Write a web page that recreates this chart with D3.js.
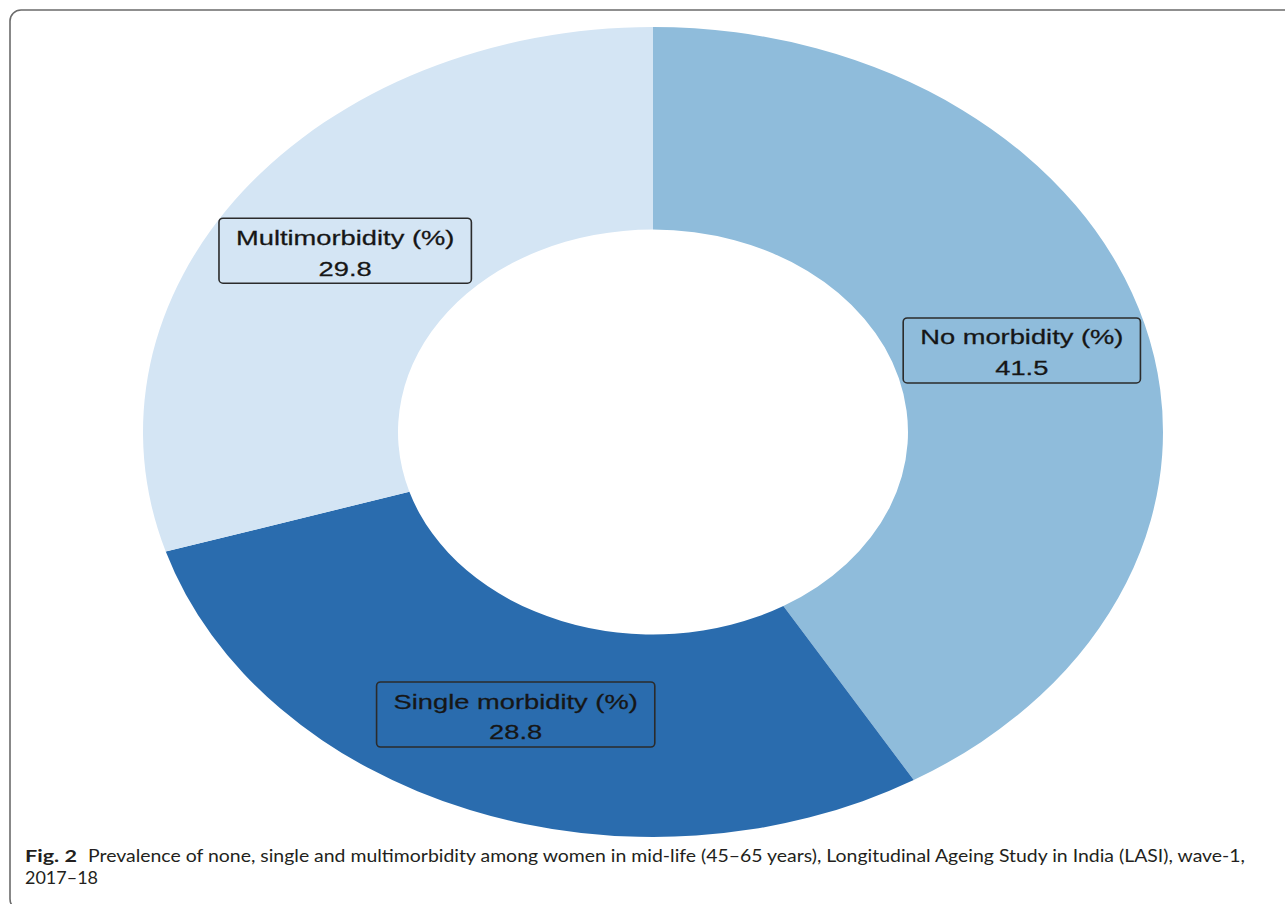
<!DOCTYPE html>
<html>
<head>
<meta charset="utf-8">
<script src="https://cdn.jsdelivr.net/npm/d3@7"></script>
<style>
  html, body { margin: 0; padding: 0; background: #fff; }
  svg { display: block; }
</style>
</head>
<body>
<svg id="chart" width="1285" height="904"></svg>
<script>
// Morbidity categories and their prevalence (%)
const categories = ["No morbidity (%)", "Single morbidity (%)", "Multimorbidity (%)"];
const values = [41.5, 28.8, 29.8];
const valueLabels = ["41.5", "28.8", "29.8"];
const colors = ["#8fbcdb", "#2a6cae", "#d4e5f4"];

const captionBold = "Fig. 2";
const captionLine1 = "Prevalence of none, single and multimorbidity among women in mid-life (45\u201365 years), Longitudinal Ageing Study in India (LASI), wave-1,";
const captionLine2 = "2017\u201318";

const svg = d3.select("#chart");

// Panel frame (open at right and bottom)
svg.append("rect")
  .attr("x", 10).attr("y", 10)
  .attr("width", 1320).attr("height", 900)
  .attr("rx", 11).attr("ry", 11)
  .attr("fill", "none")
  .attr("stroke", "#6b6b6b")
  .attr("stroke-width", 1.6);

// Donut geometry: drawn as a circle, then stretched horizontally
const cx = 653, cy = 432;
const rOuter = 405, rInner = 202.5;
const sx = 510 / 405;

const color = d3.scaleOrdinal().domain(categories).range(colors);

const pie = d3.pie().sort(null).value(d => d.value).startAngle(0).endAngle(2 * Math.PI);
const data = categories.map((c, i) => ({ name: c, value: values[i], label: valueLabels[i] }));
const arcs = pie(data);

const arc = d3.arc().innerRadius(rInner).outerRadius(rOuter);

const ring = svg.append("g")
  .attr("transform", `translate(${cx},${cy}) scale(${sx},1)`);

ring.selectAll("path")
  .data(arcs)
  .join("path")
  .attr("d", arc)
  .attr("fill", d => color(d.data.name));

// Boxed labels at each slice centroid
const textScale = 1.4;
const labels = svg.append("g");

arcs.forEach(d => {
  const c = arc.centroid(d);
  const x = cx + c[0] * sx;
  const y = cy + c[1];
  const g = labels.append("g").attr("transform", `translate(${x},${y})`);

  const box = g.append("rect");
  const tg = g.append("g").attr("transform", `scale(${textScale},1)`);
  const t1 = tg.append("text")
    .attr("x", 0).attr("y", -7)
    .attr("text-anchor", "middle")
    .attr("font-family", "'Liberation Sans', Arial, sans-serif")
    .attr("font-size", 19.5)
    .attr("fill", "#161616")
    .attr("stroke", "#161616")
    .attr("stroke-width", 0.25)
    .text(d.data.name);
  tg.append("text")
    .attr("x", 0).attr("y", 24)
    .attr("text-anchor", "middle")
    .attr("font-family", "'Liberation Sans', Arial, sans-serif")
    .attr("font-size", 19.5)
    .attr("fill", "#161616")
    .attr("stroke", "#161616")
    .attr("stroke-width", 0.25)
    .text(d.data.label);

  const w = t1.node().getComputedTextLength() * textScale + 34;
  const h = 65;
  box.attr("x", -w / 2).attr("y", -h / 2 - 1)
    .attr("width", w).attr("height", h)
    .attr("rx", 4).attr("ry", 4)
    .attr("fill", "none")
    .attr("stroke", "#2b2b2b")
    .attr("stroke-width", 1.6);
});

// Caption
const cap = svg.append("g")
  .attr("font-family", "Lato, 'Open Sans', sans-serif")
  .attr("font-size", 17.5)
  .attr("fill", "#231f20");

cap.append("text")
  .attr("x", 25).attr("y", 862)
  .attr("font-weight", "bold")
  .attr("textLength", 52)
  .attr("lengthAdjust", "spacingAndGlyphs")
  .text(captionBold);

cap.append("text")
  .attr("x", 88).attr("y", 862)
  .attr("textLength", 1157)
  .attr("lengthAdjust", "spacingAndGlyphs")
  .text(captionLine1);

cap.append("text")
  .attr("x", 25).attr("y", 884)
  .attr("textLength", 73)
  .attr("lengthAdjust", "spacingAndGlyphs")
  .text(captionLine2);
</script>
</body>
</html>
